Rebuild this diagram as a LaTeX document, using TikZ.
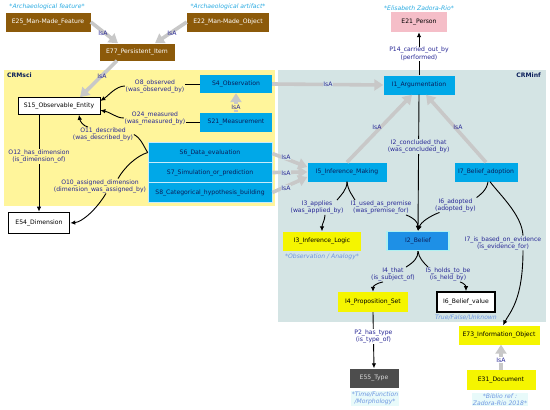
\documentclass[tikz,border=0pt]{standalone}
\usepackage{fontspec}
\setmainfont{DejaVu Sans}
\usetikzlibrary{arrows.meta}
\definecolor{brownc}{RGB}{140,90,10}
\definecolor{bluec}{RGB}{0,168,232}
\definecolor{beliefc}{RGB}{30,144,230}
\definecolor{beliefhalo}{RGB}{175,240,240}
\definecolor{yellowc}{RGB}{245,245,0}
\definecolor{pinkc}{RGB}{245,190,200}
\definecolor{darkc}{RGB}{77,77,77}
\definecolor{scibg}{RGB}{255,245,155}
\definecolor{infbg}{RGB}{212,228,228}
\definecolor{lblc}{RGB}{40,40,150}
\definecolor{captc}{RGB}{40,170,225}
\definecolor{captb}{RGB}{110,150,225}
\definecolor{captbg}{RGB}{232,250,250}
\definecolor{isac}{RGB}{200,200,200}
\definecolor{navyt}{RGB}{10,30,90}
\definecolor{sepc}{RGB}{200,235,250}
\begin{document}
\begin{tikzpicture}[x=1pt,y=-1pt,
  font=\fontsize{6.1}{7.2}\selectfont,
  box/.style={minimum height=19pt, inner sep=1pt, anchor=center},
  brownbox/.style={box, fill=brownc, text=white},
  bluebox/.style={box, fill=bluec, text=navyt},
  stackbox/.style={bluebox, draw=sepc, line width=0.6pt},
  yellowbox/.style={box, fill=yellowc, text=black},
  whitebox/.style={box, fill=white, draw=black, line width=0.7pt, text=black},
  thickbox/.style={box, fill=white, draw=black, line width=1.6pt, text=black},
  lbl/.style={text=lblc, align=center, inner sep=0.6pt},
  capt/.style={text=captc, font=\fontsize{6.1}{7.2}\selectfont\itshape, align=center, inner sep=0.8pt},
  captl/.style={text=captb, font=\fontsize{6.1}{7.2}\selectfont\itshape, align=center, inner sep=0.8pt},
  arr/.style={draw=black, line width=0.9pt, -{Latex[length=5pt,width=4.5pt]}},
  ln/.style={draw=black, line width=0.9pt},
  isa/.style={draw=isac, line width=3.6pt, -{Triangle[length=9pt,width=11pt]}},
  isalbl/.style={text=lblc, inner sep=0.8pt}
]
\useasboundingbox (0,0) rectangle (550,410);
% regions
\fill[scibg] (4,70) rectangle (275,206);
\fill[infbg] (278,70) rectangle (546,322);
\node[anchor=west, font=\fontsize{6.1}{7.2}\selectfont\bfseries, text=navyt, inner sep=0] (crmsci) at (7,75) {CRMsci};
\node[anchor=east, font=\fontsize{6.1}{7.2}\selectfont\bfseries, text=navyt, inner sep=0] (crminf) at (541,75) {CRMinf};

% nodes
\node[brownbox, minimum width=85pt] (e25) at (48,22) {E25\_Man-Made\_Feature};
\node[brownbox, minimum width=82pt] (e22) at (228,22) {E22\_Man-Made\_Object};
\node[brownbox, minimum width=75pt, minimum height=17pt] (e77) at (137,52) {E77\_Persistent\_Item};
\node[box, fill=pinkc, text=black, minimum width=56pt, minimum height=20pt] (e21) at (419,22) {E21\_Person};
\node[bluebox, minimum width=71pt] (i1) at (419,85) {I1\_Argumentation};
\node[whitebox, minimum width=82pt, minimum height=17pt] (s15) at (59,106) {S15\_Observable\_Entity};
\node[bluebox, minimum width=72pt, minimum height=18pt] (s4) at (236,84) {S4\_Observation};
\node[bluebox, minimum width=72pt] (s21) at (236,122) {S21\_Measurement};
\node[stackbox, minimum width=124pt, minimum height=19.5pt] (s6) at (210,152.5) {S6\_Data\_evaluation};
\node[stackbox, minimum width=124pt, minimum height=19.5pt] (s7) at (210,172.5) {S7\_Simulation\_or\_prediction};
\node[stackbox, minimum width=124pt, minimum height=19.5pt] (s8) at (210,192.5) {S8\_Categorical\_hypothesis\_building};
\node[thickbox, minimum width=61pt, minimum height=21pt] (e54) at (39,223) {E54\_Dimension};
\node[bluebox, minimum width=79pt] (i5) at (347,172) {I5\_Inference\_Making};
\node[bluebox, minimum width=63pt] (i7) at (486,172) {I7\_Belief\_adoption};
\node[yellowbox, minimum width=78pt] (i3) at (322,241) {I3\_Inference\_Logic};
\node[box, fill=beliefc, draw=beliefhalo, line width=1.4pt, text=navyt, minimum width=62pt] (i2) at (418,241) {I2\_Belief};
\node[yellowbox, minimum width=70pt, minimum height=20pt] (i4) at (373,302) {I4\_Proposition\_Set};
\node[thickbox, minimum width=58pt, minimum height=20pt] (i6) at (466,302) {I6\_Belief\_value};
\node[box, fill=darkc, text=white!85!black, minimum width=49pt] (e55) at (374,378) {E55\_Type};
\node[yellowbox, minimum width=81pt] (e73) at (499,335) {E73\_Information\_Object};
\node[yellowbox, minimum width=69pt, minimum height=20pt] (e31) at (501,380) {E31\_Document};

% captions
\node[capt] (c25) at (47,7) {*Archaeological feature*};
\node[capt] (c22) at (228,7) {*Archaeological artifact*};
\node[capt] (c21) at (419,8) {*Elisabeth Zadora-Rio*};
\node[captl] (c3) at (322,257) {*Observation / Analogy*};
\node[captl] (c6) at (466,317) {True/False/Unknown};
\node[captl, fill=captbg] (c55) at (375,398.5) {*Time/Function\\/Morphology*};
\node[captl, fill=captbg] (c31) at (500,399.5) {*Biblio ref :\\Zadora-Rio 2018*};

% IsA connectors
\draw[isa] (e25.east) -- ([xshift=-19pt]e77.north);
\node[isalbl] (isa1) at (103,33) {IsA};
\draw[isa] (e22.west) -- ([xshift=18pt]e77.north);
\node[isalbl] (isa2) at (172,33) {IsA};
\draw[isa] ([xshift=-20pt]e77.south) -- ([xshift=21pt]s15.north);
\node[isalbl] (isa3) at (102,76) {IsA};
\draw[isa] (s4.east) -- (i1.west);
\node[isalbl, fill=infbg] (isa4) at (328,84) {IsA};
\draw[isa] (s21.north) -- (s4.south);
\node[isalbl, fill=scibg] (isa5) at (236,107) {IsA};
\draw[isa] ([yshift=-1pt]s6.east) -- ([yshift=5pt]i5.west);
\node[isalbl, fill=infbg] (isa6) at (286,157) {IsA};
\draw[isa] (s7.east) -- (i5.west);
\node[isalbl, fill=infbg] (isa7) at (286,173) {IsA};
\draw[isa] (s8.east) -- ([yshift=-5pt]i5.west);
\node[isalbl, fill=infbg] (isa8) at (286,188) {IsA};
\draw[isa] (i5.north) -- ([xshift=-7pt]i1.south);
\node[isalbl] (isa9) at (377,127) {IsA};
\draw[isa] (i7.north) -- ([xshift=7pt]i1.south);
\node[isalbl] (isa10) at (458,127) {IsA};
\draw[isa] (e31.north) -- (e31.north |- e73.south);
\node[isalbl, fill=white] (isa11) at (501,360) {IsA};

% straight property connectors
\draw[arr] (i1.north) -- node[lbl, fill=white, pos=0.5] (lp14) {P14\_carried\_out\_by\\(performed)} (e21.south);
\draw[arr] (s15.south -| e54.north) -- node[lbl, fill=scibg, pos=0.43] (lo12) {O12\_has\_dimension\\(is\_dimension\_of)} (e54.north);
\draw[arr] (i1.south) -- node[lbl, fill=infbg, pos=0.38] (lcon) {I2\_concluded\_that\\(was\_concluded\_by)} (i2.north);
\draw[arr] (i4.south) -- node[lbl, fill=white, pos=0.43] (lp2) {P2\_has\_type\\(is\_type\_of)} (e55.north);

% labels of curved connectors
\node[lbl] (lo8) at (155,86) {O8\_observed\\(was\_observed\_by)};
\node[lbl] (lo24) at (155,118) {O24\_measured\\(was\_measured\_by)};
\node[lbl] (lo11) at (103,134.5) {O11\_described\\(was\_described\_by)};
\node[lbl] (lo10) at (100,186) {O10\_assigned\_dimension\\(dimension\_was\_assigned\_by)};
\node[lbl] (lapp) at (317,207.5) {I3\_applies\\(was\_applied\_by)};
\node[lbl] (lprem) at (381,207.5) {I1\_used\_as\_premise\\(was\_premise\_for)};
\node[lbl] (lado) at (455.5,205) {I6\_adopted\\(adopted\_by)};
\node[lbl] (lev) at (503,243) {I7\_is\_based\_on\_evidence\\(is\_evidence\_for)};
\node[lbl] (lthat) at (393,274.5) {I4\_that\\(is\_subject\_of)};
\node[lbl] (lhold) at (448,274.5) {I5\_holds\_to\_be\\(is\_held\_by)};

% O8
\draw[ln] (s4.west) -- (s4.west -| lo8.east);
\draw[arr] (lo8.west) .. controls (116,86) and (108,96) .. (s15.7);
% O24
\draw[ln] (s21.west) -- (s21.west -| lo24.east);
\draw[arr] (lo24.west) .. controls (116,118) and (110,112) .. (s15.-6);
% O11
\draw[ln] (s6.west) .. controls (144,147) and (141,138) .. (lo11.east);
\draw[arr] ([xshift=-15pt]lo11.north) .. controls (83,126) and (80,121) .. ([xshift=20pt]s15.south);
% O10
\draw[ln] (s6.west) .. controls (136,156) and (124,168) .. ([xshift=18pt]lo10.north);
\draw[arr] ([xshift=6pt]lo10.south) .. controls (96,210) and (82,222) .. (e54.east);
% I3 applies / I1 used as premise
\draw[ln] (i5.south) .. controls (347,190) and (341,195) .. ([xshift=20pt]lapp.north);
\draw[arr] ([xshift=8pt]lapp.south) .. controls (325,220) and (322,224) .. (i3.north);
\draw[ln] (i5.south) .. controls (348,191) and (353,196) .. ([xshift=-26pt]lprem.north);
\draw[arr] ([xshift=25pt]lprem.south) .. controls (414,218) and (418,222) .. (i2.north);
% I6 adopted
\draw[ln] ([xshift=2pt]i7.south) .. controls (487,190) and (480,195) .. (lado.north east);
\draw[arr] ([xshift=-16pt]lado.south) .. controls (430,216) and (421,222) .. (i2.north);
% I7 is based on evidence
\draw[ln] ([xshift=4pt]i7.south) .. controls (500,195) and (522,215) .. ([xshift=20pt]lev.north);
\draw[arr] ([xshift=20pt]lev.south) .. controls (523,300) and (510,312) .. ([xshift=4pt]e73.north);
% I4 that / I5 holds to be
\draw[ln] (i2.south) .. controls (418,258) and (414,262) .. ([xshift=13pt]lthat.north);
\draw[arr] ([xshift=-10pt]lthat.south) .. controls (377,283) and (373,286) .. (i4.north);
\draw[ln] (i2.south) .. controls (419,258) and (423,262) .. ([xshift=-20pt]lhold.north);
\draw[arr] ([xshift=12pt]lhold.south) .. controls (464,283) and (466,286) .. (i6.north);
\end{tikzpicture}
\end{document}
